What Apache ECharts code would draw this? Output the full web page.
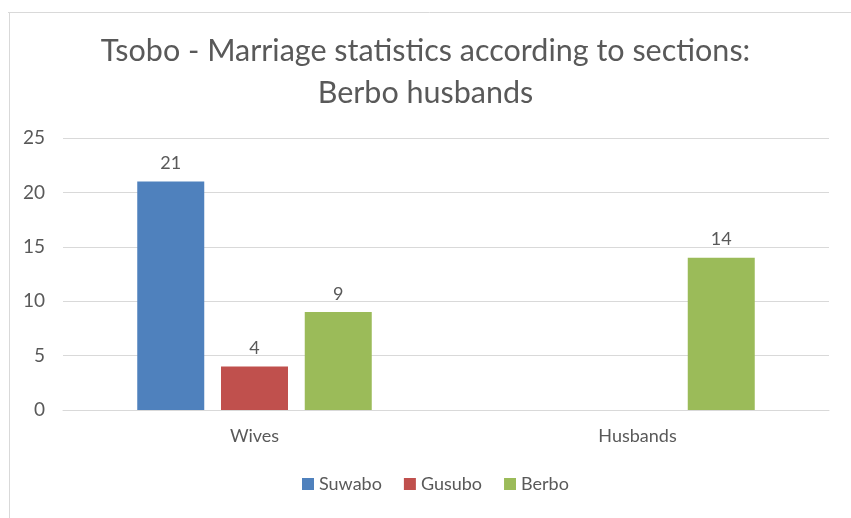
<!DOCTYPE html>
<html>
<head>
<meta charset="utf-8">
<script src="https://cdn.jsdelivr.net/npm/echarts@6/dist/echarts.min.js"></script>
<style>
html,body{margin:0;padding:0;background:#fff;}
#chart{width:851px;height:518px;}
</style>
</head>
<body>
<div id="chart"></div>
<script>
var categories = ['Wives', 'Husbands'];
var seriesNames = ['Suwabo', 'Gusubo', 'Berbo'];
var suwabo = [21, null];
var gusubo = [4, null];
var berbo = [9, 14];
var yTicks = [0, 5, 10, 15, 20, 25];
var colors = ['#4F81BD', '#C0504D', '#9BBB59'];

var font = 'Lato';
var txt = '#595959';
var chart = echarts.init(document.getElementById('chart'));
var values = [suwabo, gusubo, berbo];
var series = seriesNames.map(function (n, i) {
  return {
    name: n,
    type: 'bar',
    data: values[i],
    barWidth: 67,
    barGap: '25%',
    itemStyle: { color: colors[i] },
    label: { show: true, position: 'top', distance: 9, color: txt, fontSize: 18, fontFamily: font }
  };
});
chart.setOption({
  animation: false,
  backgroundColor: '#fff',
  title: {
    text: 'Tsobo - Marriage statistics according to sections:\nBerbo husbands',
    left: 'center',
    top: 25,
    textStyle: { fontFamily: font, fontSize: 30.5, fontWeight: 'normal', color: txt, lineHeight: 42 }
  },
  legend: {
    data: seriesNames,
    bottom: 20,
    left: 297,
    itemWidth: 12,
    itemHeight: 12,
    itemGap: 22,
    icon: 'rect',
    textStyle: { fontFamily: font, fontSize: 18, color: txt }
  },
  grid: { left: 63, right: 22, top: 138, bottom: 108 },
  xAxis: {
    type: 'category',
    data: categories,
    axisTick: { show: false },
    axisLine: { lineStyle: { color: '#D9D9D9' } },
    axisLabel: { margin: 17, fontFamily: font, fontSize: 18, color: txt }
  },
  yAxis: {
    type: 'value',
    min: yTicks[0],
    max: yTicks[yTicks.length - 1],
    interval: 5,
    axisLine: { show: false },
    axisTick: { show: false },
    splitLine: { lineStyle: { color: '#D9D9D9' } },
    axisLabel: { margin: 18, fontFamily: font, fontSize: 19, color: txt }
  },
  graphic: [
    { type: 'line', shape: { x1: 8, y1: 12.5, x2: 851, y2: 12.5 }, style: { stroke: '#D9D9D9', lineWidth: 1 } },
    { type: 'line', shape: { x1: 9.5, y1: 12, x2: 9.5, y2: 518 }, style: { stroke: '#D9D9D9', lineWidth: 1 } }
  ],
  series: series
});
</script>
</body>
</html>
